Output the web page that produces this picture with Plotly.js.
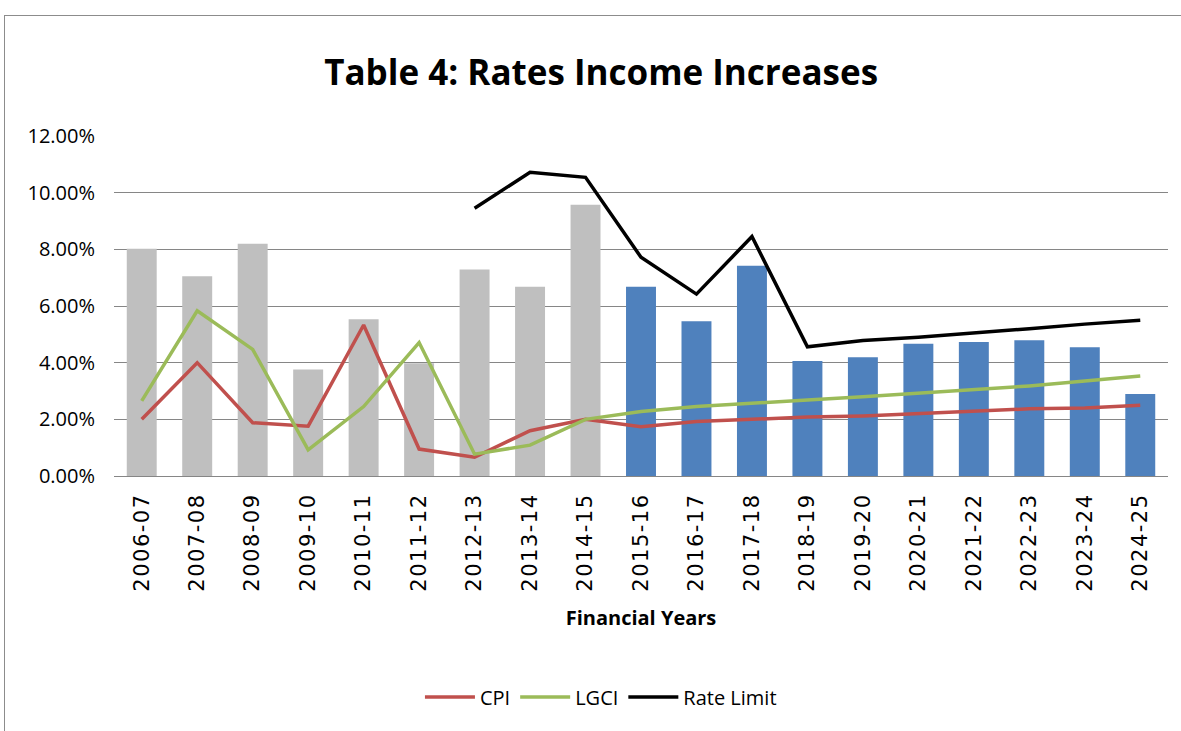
<!DOCTYPE html>
<html>
<head>
<meta charset="utf-8">
<script src="https://cdn.plot.ly/plotly-3.0.1.min.js"></script>
<style>
  html, body { margin: 0; padding: 0; background: #fff; }
  #wrap { position: relative; width: 1181px; height: 731px; overflow: hidden; }
  #chart { position: absolute; left: 0; top: 0; width: 1181px; height: 731px; }
  .frame-top { position: absolute; left: 4px; top: 15px; width: 1177px; height: 0; border-top: 1px solid #8c8c8c; }
  .frame-left { position: absolute; left: 4px; top: 15px; width: 0; height: 716px; border-left: 1px solid #8c8c8c; }
  #chart .xtick text { letter-spacing: 1.5px; }
</style>
</head>
<body>
<div id="wrap">
  <div id="chart"></div>
  <div class="frame-top"></div>
  <div class="frame-left"></div>
</div>
<script>
const years = ["2006-07","2007-08","2008-09","2009-10","2010-11","2011-12","2012-13","2013-14","2014-15",
               "2015-16","2016-17","2017-18","2018-19","2019-20","2020-21","2021-22","2022-23","2023-24","2024-25"];
// Rates income increase (%) – actual (grey) then forecast (blue)
const ratesIncome = [8.02, 7.05, 8.2, 3.76, 5.53, 3.98, 7.29, 6.68, 9.57,
                     6.68, 5.46, 7.42, 4.06, 4.19, 4.67, 4.73, 4.79, 4.54, 2.89];
const barColors = ["#BFBFBF","#BFBFBF","#BFBFBF","#BFBFBF","#BFBFBF","#BFBFBF","#BFBFBF","#BFBFBF","#BFBFBF",
                   "#4F81BD","#4F81BD","#4F81BD","#4F81BD","#4F81BD","#4F81BD","#4F81BD","#4F81BD","#4F81BD","#4F81BD"];
const cpi = [2.0, 4.0, 1.88, 1.76, 5.33, 0.95, 0.66, 1.6, 2.0,
             1.74, 1.92, 2.0, 2.08, 2.12, 2.2, 2.27, 2.37, 2.4, 2.5];
const lgci = [2.65, 5.83, 4.47, 0.92, 2.45, 4.71, 0.77, 1.09, 2.0,
              2.28, 2.45, 2.55, 2.68, 2.8, 2.92, 3.06, 3.18, 3.35, 3.53];
const rateLimit = [null, null, null, null, null, null, 9.45, 10.72, 10.54,
                   7.72, 6.42, 8.45, 4.56, 4.78, 4.9, 5.04, 5.2, 5.36, 5.5];

const pct = a => a.map(v => v === null ? null : v / 100);
const sans = "Open Sans, sans-serif";

const traces = [
  { type: "bar", x: years, y: pct(ratesIncome), marker: { color: barColors }, showlegend: false, hoverinfo: "x+y" },
  { type: "scatter", mode: "lines", name: "CPI", x: years, y: pct(cpi), line: { color: "#C0504D", width: 3.5 } },
  { type: "scatter", mode: "lines", name: "LGCI", x: years, y: pct(lgci), line: { color: "#9BBB59", width: 3.5 } },
  { type: "scatter", mode: "lines", name: "Rate Limit", x: years, y: pct(rateLimit), line: { color: "#000000", width: 3.5 } }
];

const layout = {
  width: 1181, height: 731,
  margin: { l: 114, r: 13, t: 136, b: 255 },
  paper_bgcolor: "rgba(0,0,0,0)",
  plot_bgcolor: "#ffffff",
  bargap: 0.46,
  title: {
    text: "<b>Table 4: Rates Income Increases</b>",
    font: { family: sans, size: 35, color: "#000" },
    x: 0.509, xref: "container", xanchor: "center",
    y: 0.9, yref: "container", yanchor: "middle"
  },
  xaxis: {
    type: "category",
    tickangle: -90,
    tickfont: { family: "DejaVu Sans, sans-serif", size: 21, color: "#000" },
    showgrid: false,
    showline: true, linecolor: "#868686", linewidth: 1,
    ticks: "outside", ticklen: 8, tickcolor: "rgba(0,0,0,0)",
    title: { text: "<b>Financial Years</b>", font: { family: sans, size: 20, color: "#000" }, standoff: 30 }
  },
  yaxis: {
    range: [0, 0.12],
    dtick: 0.02,
    tickformat: ".2%",
    tickfont: { family: sans, size: 20, color: "#000" },
    showgrid: true, gridcolor: "#868686", gridwidth: 1,
    zeroline: false,
    showline: false,
    ticks: "outside", ticklen: 14, tickcolor: "rgba(0,0,0,0)",
    automargin: false
  },
  legend: {
    orientation: "h",
    x: 0.462, xanchor: "center",
    y: -0.65, yanchor: "middle",
    font: { family: sans, size: 20, color: "#000" },
    itemwidth: 50
  },
  showlegend: true
};

Plotly.newPlot("chart", traces, layout, { displayModeBar: false, staticPlot: true });
</script>
</body>
</html>
